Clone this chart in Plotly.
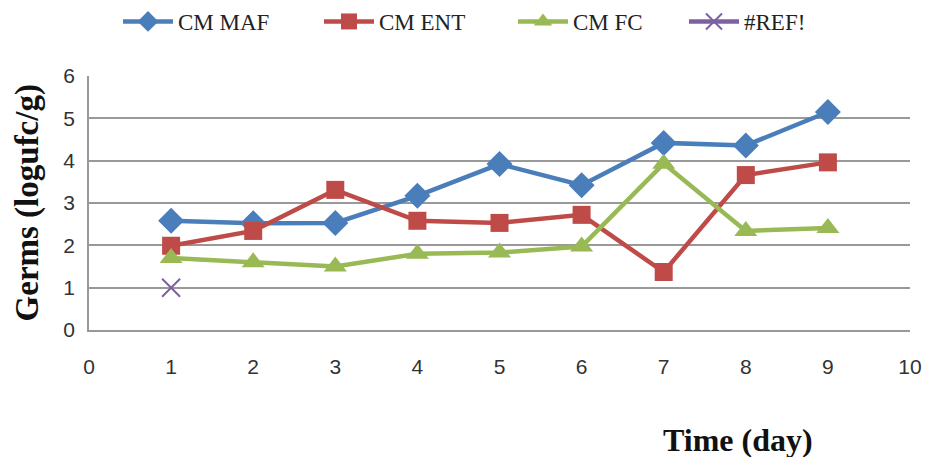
import plotly.graph_objects as go

days = [1, 2, 3, 4, 5, 6, 7, 8, 9]
cm_maf = [2.58, 2.52, 2.53, 3.17, 3.92, 3.42, 4.42, 4.36, 5.15]
cm_ent = [1.99, 2.34, 3.31, 2.58, 2.53, 2.72, 1.37, 3.66, 3.96]
cm_fc = [1.70, 1.60, 1.50, 1.80, 1.83, 1.97, 3.93, 2.34, 2.41]
ref_x = [1]
ref_y = [1.0]

x_ticks = list(range(0, 11))
y_ticks = list(range(0, 7))

fig = go.Figure()
fig.add_trace(go.Scatter(x=days, y=cm_maf, name="CM MAF", mode="lines+markers", legend="legend",
                         line=dict(color="#4A7EBB", width=4.5),
                         marker=dict(symbol="diamond", size=20, color="#4A7EBB")))
fig.add_trace(go.Scatter(x=days, y=cm_ent, name="CM ENT", mode="lines+markers", legend="legend2",
                         line=dict(color="#BE4B48", width=4.5),
                         marker=dict(symbol="square", size=18, color="#BE4B48")))
fig.add_trace(go.Scatter(x=days, y=cm_fc, name="CM FC", mode="lines+markers", legend="legend3",
                         line=dict(color="#98B954", width=4.5),
                         marker=dict(symbol="triangle-up", size=20, color="#98B954")))
fig.add_trace(go.Scatter(x=ref_x, y=ref_y, name="#REF!", mode="lines+markers", legend="legend4",
                         line=dict(color="#7D60A0", width=4.5),
                         marker=dict(symbol="x-thin", size=18,
                                     line=dict(color="#7D60A0", width=2), color="#7D60A0")))


def leg(xpx):
    return dict(orientation="h", x=xpx / 934, y=1.0, xref="container", yref="container",
                xanchor="left", yanchor="top", bgcolor="rgba(0,0,0,0)",
                font=dict(family="Liberation Serif", size=23, color="#222"),
                itemwidth=50)


fig.update_layout(
    width=934, height=457,
    margin=dict(l=89, r=21, t=76, b=127),
    paper_bgcolor="white", plot_bgcolor="white",
    showlegend=True,
    legend=leg(118), legend2=leg(319), legend3=leg(513), legend4=leg(684),
    xaxis=dict(range=[0, 10], tickvals=x_ticks, showgrid=False, zeroline=False,
               showline=True, linecolor="#999", linewidth=1.5,
               ticks="", ticklabelstandoff=17,
               tickfont=dict(family="Liberation Sans Narrow, Liberation Sans", size=21, color="#333")),
    yaxis=dict(range=[0, 6], tickvals=y_ticks, showgrid=True, gridcolor="#999", gridwidth=1.5,
               zeroline=False, showline=True, linecolor="#999", linewidth=1.5,
               ticks="", ticklabelstandoff=8,
               tickfont=dict(family="Liberation Sans Narrow, Liberation Sans", size=21, color="#333")),
    annotations=[
        dict(text="<b>Germs (logufc/g)</b>", xref="paper", yref="paper", x=-0.075, y=0.5,
             xanchor="center", yanchor="middle", textangle=-90, showarrow=False,
             font=dict(family="Liberation Serif", size=33, color="#111")),
        dict(text="<b>Time (day)</b>", xref="paper", yref="paper", x=0.79, y=-0.432,
             xanchor="center", yanchor="middle", showarrow=False,
             font=dict(family="Liberation Serif", size=32, color="#111")),
    ],
)

fig.write_html("out.html")
